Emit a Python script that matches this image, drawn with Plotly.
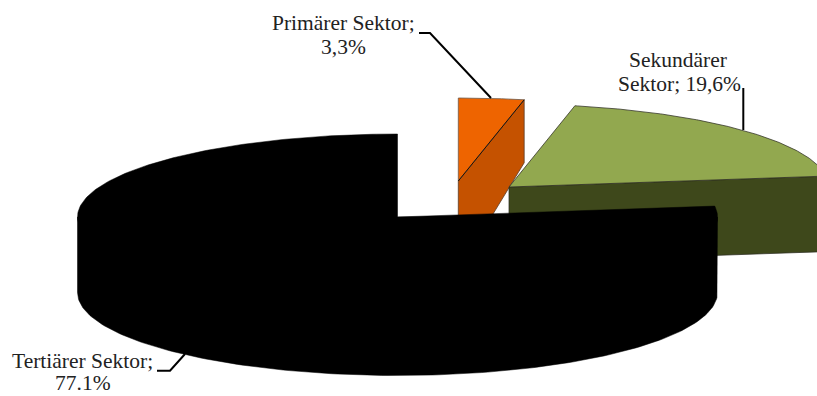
import numpy as np
import plotly.graph_objects as go

sectors = ["Primärer Sektor", "Sekundärer Sektor", "Tertiärer Sektor"]
shares = [3.3, 19.6, 77.1]
top_colors = ["#EE6400", "#92A84F", "#000000"]
wall_colors = ["#C55200", "#3E481B", "#000000"]
label_lines = ["Primärer Sektor;", "3,3%", "Sekundärer", "Sektor; 19,6%", "Tertiärer Sektor;", "77.1%"]
label_x = [343.5, 343.5, 677.6, 679, 82, 82.5]
label_y = [22.5, 46.5, 59.5, 83.5, 360.5, 383]

WIDTH, HEIGHT = 817, 396
RX, RY = 320, 83
DEPTH = 75.5
hubs = [(458.3, 181), (509, 187), (397.5, 217)]
edge = "rgba(45,45,35,0.75)"


def rim(hub, start, stop, dy=0, n=160):
    """Points along the elliptical rim; angles run clockwise from twelve o'clock."""
    a = np.radians(np.linspace(start, stop, n))
    return hub[0] + RX * np.sin(a), hub[1] - RY * np.cos(a) + dy


def face(fig, xs, ys, color, line=edge, width=1):
    fig.add_trace(go.Scatter(
        x=list(xs) + [xs[0]], y=list(ys) + [ys[0]], mode="lines", fill="toself",
        fillcolor=color, line=dict(color=line, width=width), hoverinfo="skip", showlegend=False,
    ))


cuts = np.cumsum([0] + [s * 3.6 for s in shares])
fig = go.Figure()

# Primary slice: pulled out, its cut face seen in perspective
s0, e0 = cuts[0], cuts[1]
hub = hubs[0]
rx0, ry0 = rim(hub, s0, e0)
ex, ey = rx0[-1], ry0[-1]
face(fig, [hub[0], ex, ex, hub[0]], [hub[1], ey, ey + 63, hub[1] + 90], wall_colors[0], "rgba(90,60,40,0.8)")
face(fig, [hub[0], *rx0], [hub[1], *ry0], top_colors[0], "rgba(110,90,75,0.8)")
fig.add_trace(go.Scatter(x=[hub[0], ex], y=[hub[1], ey], mode="lines",
                         line=dict(color="#201005", width=1), hoverinfo="skip", showlegend=False))

# Secondary slice
s1, e1 = cuts[1], cuts[2]
hub = hubs[1]
rx1, ry1 = rim(hub, s1, e1)
ex, ey = rx1[-1], ry1[-1]
face(fig, [hub[0], ex, ex, hub[0]], [hub[1], ey, ey + DEPTH, hub[1] + DEPTH], wall_colors[1])
face(fig, [hub[0], *rx1], [hub[1], *ry1], top_colors[1])

# Tertiary slice: the wall runs under the front half of the top surface, so no seam shows
s2, e2 = cuts[2], cuts[3]
hub = hubs[2]
wx_b, wy_b = rim(hub, 90, 270, dy=DEPTH)
face(fig, [hub[0] + RX, *wx_b, hub[0] - RX], [hub[1], *wy_b, hub[1]], wall_colors[2], "#000000", 0.5)
rx2, ry2 = rim(hub, s2, e2, n=300)
face(fig, [hub[0], *rx2], [hub[1], *ry2], top_colors[2], "#000000", 0.5)

# Leader lines
leaders = [
    ([419, 430, 491], [33, 33, 98]),
    ([743.3, 743.3], [88, 130]),
    ([157, 170, 185], [370.7, 370.7, 354]),
]
for lx, ly in leaders:
    fig.add_trace(go.Scatter(x=lx, y=ly, mode="lines", line=dict(color="#000000", width=2),
                             hoverinfo="skip", showlegend=False))

for text, x, y in zip(label_lines, label_x, label_y):
    fig.add_annotation(x=x, y=y, xref="x", yref="y", text=text, showarrow=False, align="center",
                       font=dict(family="Liberation Serif", size=21.5, color="#222222"))

fig.update_layout(
    width=WIDTH, height=HEIGHT, margin=dict(l=0, r=0, t=0, b=0),
    paper_bgcolor="white", plot_bgcolor="white",
    xaxis=dict(range=[0, WIDTH], visible=False, fixedrange=True),
    yaxis=dict(range=[HEIGHT, 0], visible=False, fixedrange=True),
)
fig.write_html("out.html", config=dict(displayModeBar=False))
